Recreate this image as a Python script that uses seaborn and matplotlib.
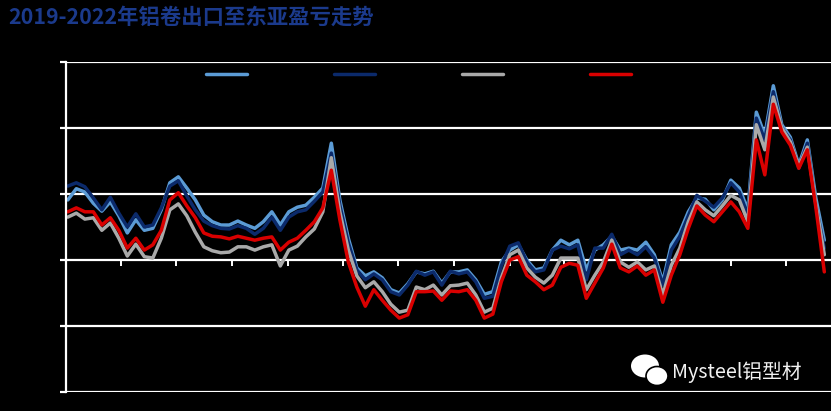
import pandas as pd
import seaborn as sns
import matplotlib.pyplot as plt
import matplotlib.dates as mdates
from matplotlib.patches import Ellipse

# =============================================================================
# DATA  (元/吨, biweekly)
# =============================================================================
series_names = ['1系', '3系', '5系', '8系']
series_colors = ['#5b9bd5', '#0b2a6b', '#a9a9a9', '#d90000']

dates = pd.date_range('2019-01-04', periods=90, freq='14D')

light_blue = [910, 1080, 1030, 860, 740, 880, 670, 410, 610, 450,
              480, 760, 1170, 1260, 1090, 910, 680, 580, 530, 530,
              590, 530, 480, 580, 730, 530, 730, 800, 830, 950,
              1090, 1770, 910, 330, -120, -240, -180, -270, -450, -500,
              -360, -180, -210, -170, -350, -180, -180, -150, -300, -520,
              -480, -30, 150, 230, 0, -150, -120, 150, 300, 230,
              300, -150, 150, 230, 360, 150, 180, 150, 270, 80,
              -330, 230, 420, 730, 940, 920, 760, 910, 1210, 1090,
              760, 2240, 1890, 2640, 2050, 1860, 1440, 1820, 940, 300]

navy = [1120, 1170, 1110, 940, 760, 950, 710, 500, 700, 500,
        530, 790, 1120, 1200, 970, 760, 590, 520, 480, 470,
        520, 480, 390, 480, 650, 450, 650, 730, 760, 890,
        1030, 1620, 830, 260, -150, -300, -210, -300, -480, -530,
        -380, -170, -230, -180, -380, -170, -210, -180, -330, -580,
        -550, -90, 210, 260, -30, -180, -150, 150, 210, 170,
        230, -300, 180, 180, 390, 80, 150, 80, 200, 30,
        -380, 150, 360, 670, 980, 890, 800, 940, 1170, 1030,
        680, 2150, 1820, 2550, 2000, 1820, 1390, 1770, 830, 180]

gray = [650, 710, 620, 640, 450, 560, 330, 60, 240, 50,
        30, 330, 760, 850, 670, 420, 200, 140, 110, 120,
        200, 200, 150, 200, 230, -90, 150, 210, 350, 470,
        730, 1550, 730, 150, -240, -420, -330, -480, -670, -790,
        -760, -410, -450, -380, -530, -390, -380, -350, -530, -790,
        -730, -270, 80, 150, -120, -260, -350, -230, 30, 30,
        30, -450, -230, -30, 300, -30, -110, -30, -150, -90,
        -530, -80, 180, 580, 880, 760, 670, 820, 980, 910,
        580, 2050, 1670, 2470, 2000, 1790, 1420, 1710, 860, 80]

red = [730, 790, 730, 730, 530, 640, 450, 180, 330, 150,
       230, 450, 910, 1020, 820, 640, 410, 360, 350, 320,
       360, 330, 300, 330, 350, 150, 270, 330, 450, 580,
       790, 1360, 610, -30, -410, -700, -450, -610, -760, -880,
       -830, -480, -480, -470, -610, -470, -480, -450, -610, -880,
       -820, -330, 0, 50, -230, -330, -450, -380, -110, -50,
       -80, -580, -350, -120, 240, -120, -180, -90, -230, -150,
       -640, -230, 80, 480, 820, 680, 580, 730, 880, 730,
       480, 1820, 1290, 2360, 1940, 1740, 1390, 1670, 800, -180]

y_ticks = [-2000, -1000, 0, 1000, 2000, 3000]

df = pd.DataFrame({'date': dates, series_names[0]: light_blue, series_names[1]: navy,
                   series_names[2]: gray, series_names[3]: red})
long = df.melt(id_vars='date', var_name='series', value_name='value')

# =============================================================================
# PLOT
# =============================================================================
sns.set_theme(style='ticks')
plt.rcParams['font.family'] = ['DejaVu Sans', 'Noto Sans CJK SC']

fig = plt.figure(figsize=(8.31, 4.11), dpi=100, facecolor='black')
ax = fig.add_axes([66/831, 19/411, 765/831, 330/411], facecolor='black')

sns.lineplot(data=long, x='date', y='value', hue='series', hue_order=series_names,
             palette=series_colors, linewidth=2.5, ax=ax)

ax.set_xlim(pd.Timestamp('2019-01-01'), pd.Timestamp('2022-06-14'))
ax.set_ylim(-2000, 3000)
ax.set_yticks(y_ticks)
ax.set_xlabel('')
ax.set_ylabel('')
ax.set_axisbelow(True)
ax.yaxis.grid(True, color='white', linewidth=1.6)
ax.xaxis.grid(False)
for s in ['top', 'right', 'bottom']:
    ax.spines[s].set_visible(False)
ax.spines['left'].set_color('white')
ax.spines['left'].set_linewidth(1.6)
ax.tick_params(axis='y', colors='white', labelcolor='black', length=4.5, width=1.6, labelsize=9)
ax.xaxis.set_major_locator(mdates.MonthLocator(bymonth=(1, 4, 7, 10)))
ax.xaxis.set_major_formatter(mdates.DateFormatter('%Y-%m'))
ax.tick_params(axis='x', length=0, labelcolor='black', labelsize=8)

# ticks on the zero line
sec = ax.secondary_xaxis(0.4)
sec.xaxis.set_major_locator(mdates.MonthLocator(bymonth=(1, 4, 7, 10)))
sec.xaxis.set_ticks_position('bottom')
sec.tick_params(axis='x', direction='out', colors='white', length=4, width=1.4, labelbottom=False, labeltop=False)
for s in sec.spines.values():
    s.set_visible(False)

handles, labels = ax.get_legend_handles_labels()
ax.legend(handles, labels, ncol=4, loc='upper left', bbox_to_anchor=(0.175, 1.0),
          frameon=False, borderpad=0, handlelength=3.3, handletextpad=0.5,
          columnspacing=4.8, fontsize=9, labelcolor='black')

fig.text(0.01, 0.958, '2019-2022年铝卷出口至东亚盈亏走势', color='#1b3a8c', fontsize=15.4,
         fontweight='bold', va='center', ha='left', family=['Noto Sans CJK SC', 'DejaVu Sans'])

# watermark
fig.add_artist(Ellipse((645/831, 45/411), 28/831, 23/411, facecolor='white', edgecolor='none',
                       transform=fig.transFigure))
fig.add_artist(Ellipse((657/831, 35/411), 22/831, 19/411, facecolor='white', edgecolor='black',
                       linewidth=1.2, transform=fig.transFigure))
fig.text(672/831, 39/411, 'Mysteel铝型材', color='#f2f2f2', fontsize=14.2, va='center', ha='left',
         family=['Noto Sans CJK SC', 'DejaVu Sans'])

plt.savefig('out.png', dpi=100, facecolor='black')
